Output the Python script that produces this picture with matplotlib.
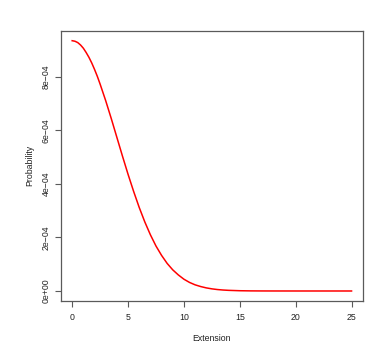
"""Probability vs extension curve, R base-graphics look."""

import matplotlib

matplotlib.use("Agg")
import matplotlib.pyplot as plt
from matplotlib.ticker import FixedLocator, FuncFormatter

# values
extension = [0, 0.25, 0.5, 0.75, 1, 1.25, 1.5, 1.75, 2, 2.25, 2.5, 3, 3.5, 4,
             4.5, 5, 5.5, 6, 6.5, 7, 7.5, 8, 8.5, 9, 9.5, 10, 10.5, 11, 11.5,
             12, 12.5, 13, 13.5, 14, 15, 16, 17, 18, 19, 20, 21, 22, 23, 24, 25]
probability = [9.35e-4, 9.33e-4, 9.28e-4, 9.19e-4, 9.07e-4, 8.91e-4, 8.73e-4,
               8.52e-4, 8.28e-4, 8.02e-4, 7.73e-4, 7.11e-4, 6.44e-4, 5.74e-4,
               5.04e-4, 4.36e-4, 3.72e-4, 3.12e-4, 2.58e-4, 2.10e-4, 1.68e-4,
               1.33e-4, 1.03e-4, 0.79e-4, 0.60e-4, 0.44e-4, 0.32e-4, 0.23e-4,
               0.166e-4, 0.116e-4, 0.080e-4, 0.054e-4, 0.036e-4, 0.024e-4,
               0.0098e-4, 0.0038e-4, 0.0014e-4, 0.0005e-4, 0.0002e-4, 0.0,
               0.0, 0.0, 0.0, 0.0, 0.0]
x_ticks = [0, 5, 10, 15, 20, 25]
y_ticks = [0, 2e-4, 4e-4, 6e-4, 8e-4]
y_tick_labels = ["0e+00", "2e\u221204", "4e\u221204", "6e\u221204", "8e\u221204"]

plt.rcParams["font.family"] = ["Liberation Sans", "DejaVu Sans"]
FS = 6.3
EDGE = "#5a5a5a"
TXT = "#222222"

fig = plt.figure(figsize=(3.86, 3.5), dpi=100)
ax = fig.add_axes([0.158, 0.14, 0.9397 - 0.158, 0.912 - 0.14])

ax.plot(extension, probability, color="red", linewidth=1.1)

ax.set_xlim(-1.0, 26.0)
ax.set_ylim(-0.374e-4, 9.72e-4)

ax.xaxis.set_major_locator(FixedLocator(x_ticks))
ax.yaxis.set_major_locator(FixedLocator(y_ticks))
ax.yaxis.set_major_formatter(
    FuncFormatter(lambda v, pos: y_tick_labels[pos] if pos is not None and pos < len(y_tick_labels) else ""))

ax.tick_params(axis="both", direction="out", length=4.3, width=0.8,
               color=EDGE, labelsize=FS, labelcolor=TXT)
ax.tick_params(axis="x", pad=4.0)
ax.tick_params(axis="y", pad=3.0)
for lab in ax.get_yticklabels():
    lab.set_rotation(90)
    lab.set_va("center")

for sp in ax.spines.values():
    sp.set_color(EDGE)
    sp.set_linewidth(0.9)

ax.set_xlabel("Extension", fontsize=FS, color=TXT, labelpad=9)
ax.set_ylabel("Probability", fontsize=FS, color=TXT, labelpad=5.5)

fig.savefig("out.png", dpi=100)
